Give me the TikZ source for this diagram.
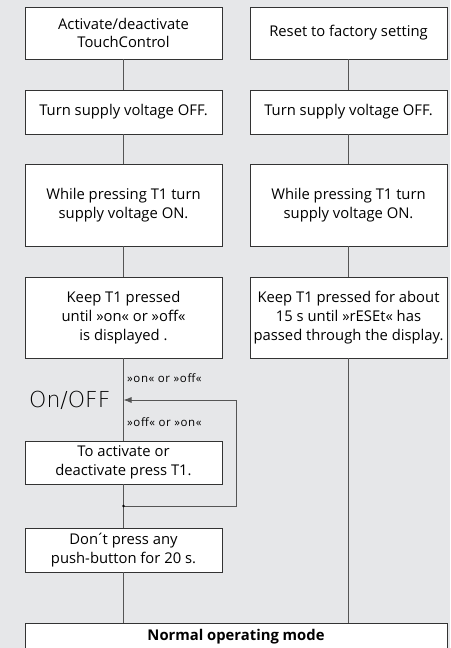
\documentclass[tikz,border=0pt]{standalone}
\usepackage{fontspec}
\setmainfont{Open Sans}
\newfontfamily\segfont{DejaVu Sans ExtraLight}
\usetikzlibrary{arrows.meta}
\definecolor{panelgray}{HTML}{E6E7E9}
\definecolor{linegray}{HTML}{555555}
\newcommand{\boxw}{197pt}

\begin{document}
\begin{tikzpicture}[x=1pt,y=-1pt,
    stepbox/.style={draw=black!80, fill=white, line width=.8pt, minimum width=\boxw,
      inner sep=0pt, align=center, font=\fontsize{14.8}{18.8}\selectfont},
    wire/.style={linegray, line width=.8pt},
    tag/.style={anchor=west, inner sep=0pt, font=\fontsize{11.5}{13}\selectfont\addfontfeatures{LetterSpace=5}}]
      %% panel, cut off at the bottom
      \useasboundingbox[fill=panelgray] (0,0) rectangle (450,648);
      %% the two columns share the first steps
      \node (l1) at (123.5,33) [stepbox, minimum height=52pt] {Activate/deactivate\\TouchControl};
      \node (r1) at (348.5,33) [stepbox, minimum height=52pt] {Reset to factory setting};
      \foreach \c/\x in {l/123.5,r/348.5}
      { \node (\c2) at (\x,112) [stepbox, minimum height=44pt] {Turn supply voltage OFF.};
        \node (\c3) at (\x,205) [stepbox, minimum height=82pt] {While pressing T1 turn\\supply voltage ON.};}
      \node (l4) at (123.5,317.5) [stepbox, minimum height=81pt] {Keep T1 pressed\\until »on« or »off«\\is displayed .};
      \node (r4) at (348.5,317.5) [stepbox, minimum height=81pt] {Keep T1 pressed for about\\15 s until »rESEt« has\\passed through the display.};
      \node (l5) at (123.5,462.5) [stepbox, minimum height=43pt] {To activate or\\deactivate press T1.};
      \node (l6) at (123.5,550) [stepbox, minimum height=44pt] {Don\kern-2pt´\kern-2pt t press any\\push-button for 20 s.};
      \node (nm) at (236,637) [stepbox, minimum width=422pt, minimum height=28pt,
        font=\fontsize{14.8}{16}\selectfont\bfseries] {Normal operating mode};

      %% display and its two states
      \node (disp) at (29,400) [anchor=west, inner sep=0pt, font=\segfont\fontsize{22}{24}\selectfont] {On/OFF};
      \node (lb1) at (127,378) [tag] {»on« or »off«};
      \node (lb2) at (127,422) [tag] {»off« or »on«};
      \coordinate (jn) at (123.5,506);
      \coordinate (tr) at (236,400);
      \coordinate (ar) at (l4.south |- disp);

      \draw[wire] (l1) to (l2) to (l3) to (l4) to (l5) to (jn) to (l6);
      \draw[wire] (l6.south) -- (l6.south |- nm.north);
      \draw[wire] (r1) to (r2) to (r3) to (r4);
      \draw[wire] (r4.south) -- (r4.south |- nm.north);
      \draw[wire, -{Latex[length=8pt,width=6pt]}] (jn) -| (tr) -- (ar);
      \fill[black] (jn) circle (1.3pt);
\end{tikzpicture}
\end{document}
